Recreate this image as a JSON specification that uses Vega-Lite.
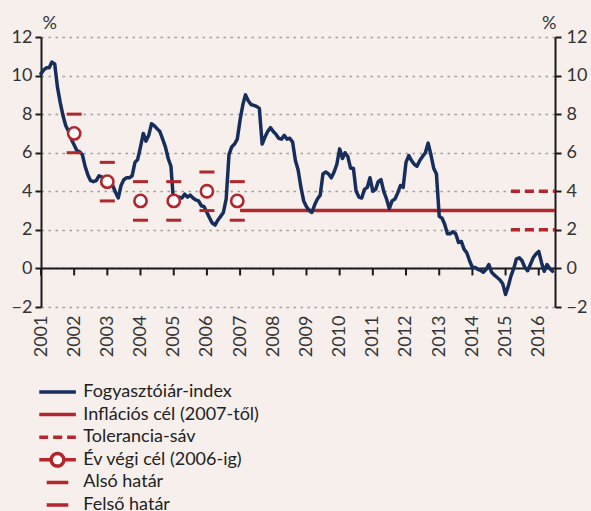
{
  "$schema": "https://vega.github.io/schema/vega-lite/v6.json",
  "width": 514,
  "height": 270,
  "autosize": {"type": "none"},
  "padding": {"left": 41, "top": 37, "right": 36, "bottom": 204},
  "background": "#f6efec",
  "config": {
    "view": {"stroke": null},
    "font": "Lato",
    "axis": {
      "labelFont": "Lato", "labelFontSize": 18, "labelColor": "#333333",
      "titleFont": "Lato", "titleFontSize": 18, "titleColor": "#333333", "titleFontWeight": "normal",
      "domainColor": "#1a1a1a", "domainWidth": 2, "tickColor": "#1a1a1a", "tickWidth": 2, "tickSize": 6,
      "gridColor": "#a0a0a0", "gridDash": [2.5, 4.5], "gridWidth": 1.5
    },
    "axisX": {"domain": false, "ticks": false, "grid": false, "labelAngle": -90, "labelPadding": 8, "title": null, "labelOverlap": false, "labelFlush": false},
    "legend": {
      "orient": "none", "legendX": -1.85, "legendY": 346, "direction": "vertical", "padding": 0,
      "rowPadding": 4.6, "clipHeight": 18, "labelFont": "Lato", "labelFontSize": 18, "labelColor": "#222222", "labelOffset": 16.8, "labelLimit": 400,
      "symbolSize": 100, "symbolStrokeWidth": 3.5, "symbolFillColor": "white", "symbolOffset": 9.35
    }
  },
  "resolve": {"axis": {"y": "independent"}},
  "datasets": {
    "cpi": [
      {"d":"2001-01-01","v":10.1},{"d":"2001-02-01","v":10.3},{"d":"2001-03-01","v":10.4},{"d":"2001-04-01","v":10.4},{"d":"2001-05-01","v":10.7},{"d":"2001-06-01","v":10.6},{"d":"2001-07-01","v":9.4},{"d":"2001-08-01","v":8.6},{"d":"2001-09-01","v":7.9},{"d":"2001-10-01","v":7.4},{"d":"2001-11-01","v":7.1},{"d":"2001-12-01","v":6.7},
      {"d":"2002-01-01","v":6.4},{"d":"2002-02-01","v":6.1},{"d":"2002-03-01","v":6.05},{"d":"2002-04-01","v":5.9},{"d":"2002-05-01","v":5.3},{"d":"2002-06-01","v":4.85},{"d":"2002-07-01","v":4.55},{"d":"2002-08-01","v":4.5},{"d":"2002-09-01","v":4.55},{"d":"2002-10-01","v":4.8},{"d":"2002-11-01","v":4.75},{"d":"2002-12-01","v":4.65},
      {"d":"2003-01-01","v":4.55},{"d":"2003-02-01","v":4.45},{"d":"2003-03-01","v":4.3},{"d":"2003-04-01","v":3.95},{"d":"2003-05-01","v":3.65},{"d":"2003-06-01","v":4.3},{"d":"2003-07-01","v":4.6},{"d":"2003-08-01","v":4.7},{"d":"2003-09-01","v":4.7},{"d":"2003-10-01","v":4.8},{"d":"2003-11-01","v":5.5},{"d":"2003-12-01","v":5.65},
      {"d":"2004-01-01","v":6.3},{"d":"2004-02-01","v":7.0},{"d":"2004-03-01","v":6.6},{"d":"2004-04-01","v":6.9},{"d":"2004-05-01","v":7.5},{"d":"2004-06-01","v":7.4},{"d":"2004-07-01","v":7.25},{"d":"2004-08-01","v":7.1},{"d":"2004-09-01","v":6.7},{"d":"2004-10-01","v":6.3},{"d":"2004-11-01","v":5.7},{"d":"2004-12-01","v":5.3},
      {"d":"2005-01-01","v":3.3},{"d":"2005-02-01","v":3.5},{"d":"2005-03-01","v":3.7},{"d":"2005-04-01","v":3.65},{"d":"2005-05-01","v":3.85},{"d":"2005-06-01","v":3.7},{"d":"2005-07-01","v":3.8},{"d":"2005-08-01","v":3.65},{"d":"2005-09-01","v":3.55},{"d":"2005-10-01","v":3.5},{"d":"2005-11-01","v":3.25},{"d":"2005-12-01","v":3.2},
      {"d":"2006-01-01","v":2.9},{"d":"2006-02-01","v":2.6},{"d":"2006-03-01","v":2.35},{"d":"2006-04-01","v":2.25},{"d":"2006-05-01","v":2.5},{"d":"2006-06-01","v":2.7},{"d":"2006-07-01","v":2.9},{"d":"2006-08-01","v":3.6},{"d":"2006-09-01","v":5.9},{"d":"2006-10-01","v":6.3},{"d":"2006-11-01","v":6.45},{"d":"2006-12-01","v":6.7},
      {"d":"2007-01-01","v":7.7},{"d":"2007-02-01","v":8.5},{"d":"2007-03-01","v":9.0},{"d":"2007-04-01","v":8.7},{"d":"2007-05-01","v":8.5},{"d":"2007-06-01","v":8.45},{"d":"2007-07-01","v":8.4},{"d":"2007-08-01","v":8.3},{"d":"2007-09-01","v":6.45},{"d":"2007-10-01","v":6.8},{"d":"2007-11-01","v":7.1},{"d":"2007-12-01","v":7.3},
      {"d":"2008-01-01","v":7.1},{"d":"2008-02-01","v":6.95},{"d":"2008-03-01","v":6.75},{"d":"2008-04-01","v":6.7},{"d":"2008-05-01","v":6.9},{"d":"2008-06-01","v":6.7},{"d":"2008-07-01","v":6.75},{"d":"2008-08-01","v":6.55},{"d":"2008-09-01","v":5.6},{"d":"2008-10-01","v":5.1},{"d":"2008-11-01","v":4.2},{"d":"2008-12-01","v":3.5},
      {"d":"2009-01-01","v":3.2},{"d":"2009-02-01","v":3.0},{"d":"2009-03-01","v":2.9},{"d":"2009-04-01","v":3.3},{"d":"2009-05-01","v":3.6},{"d":"2009-06-01","v":3.8},{"d":"2009-07-01","v":4.9},{"d":"2009-08-01","v":5.0},{"d":"2009-09-01","v":4.9},{"d":"2009-10-01","v":4.7},{"d":"2009-11-01","v":5.0},{"d":"2009-12-01","v":5.4},
      {"d":"2010-01-01","v":6.2},{"d":"2010-02-01","v":5.7},{"d":"2010-03-01","v":6.0},{"d":"2010-04-01","v":5.8},{"d":"2010-05-01","v":5.2},{"d":"2010-06-01","v":5.2},{"d":"2010-07-01","v":4.0},{"d":"2010-08-01","v":3.7},{"d":"2010-09-01","v":3.65},{"d":"2010-10-01","v":4.1},{"d":"2010-11-01","v":4.2},{"d":"2010-12-01","v":4.7},
      {"d":"2011-01-01","v":4.0},{"d":"2011-02-01","v":4.1},{"d":"2011-03-01","v":4.5},{"d":"2011-04-01","v":4.6},{"d":"2011-05-01","v":4.0},{"d":"2011-06-01","v":3.6},{"d":"2011-07-01","v":3.1},{"d":"2011-08-01","v":3.5},{"d":"2011-09-01","v":3.6},{"d":"2011-10-01","v":3.9},{"d":"2011-11-01","v":4.3},{"d":"2011-12-01","v":4.2},
      {"d":"2012-01-01","v":5.5},{"d":"2012-02-01","v":5.85},{"d":"2012-03-01","v":5.6},{"d":"2012-04-01","v":5.4},{"d":"2012-05-01","v":5.3},{"d":"2012-06-01","v":5.6},{"d":"2012-07-01","v":5.8},{"d":"2012-08-01","v":6.0},{"d":"2012-09-01","v":6.5},{"d":"2012-10-01","v":5.9},{"d":"2012-11-01","v":5.2},{"d":"2012-12-01","v":4.9},
      {"d":"2013-01-01","v":2.7},{"d":"2013-02-01","v":2.6},{"d":"2013-03-01","v":2.3},{"d":"2013-04-01","v":1.8},{"d":"2013-05-01","v":1.8},{"d":"2013-06-01","v":1.9},{"d":"2013-07-01","v":1.8},{"d":"2013-08-01","v":1.35},{"d":"2013-09-01","v":1.4},{"d":"2013-10-01","v":1.0},{"d":"2013-11-01","v":0.8},{"d":"2013-12-01","v":0.4},
      {"d":"2014-01-01","v":0.05},{"d":"2014-02-01","v":0.05},{"d":"2014-03-01","v":-0.05},{"d":"2014-04-01","v":-0.1},{"d":"2014-05-01","v":-0.2},{"d":"2014-06-01","v":-0.05},{"d":"2014-07-01","v":0.2},{"d":"2014-08-01","v":-0.2},{"d":"2014-09-01","v":-0.35},{"d":"2014-10-01","v":-0.47},{"d":"2014-11-01","v":-0.6},{"d":"2014-12-01","v":-0.8},
      {"d":"2015-01-01","v":-1.35},{"d":"2015-02-01","v":-0.9},{"d":"2015-03-01","v":-0.4},{"d":"2015-04-01","v":0.0},{"d":"2015-05-01","v":0.5},{"d":"2015-06-01","v":0.55},{"d":"2015-07-01","v":0.4},{"d":"2015-08-01","v":0.05},{"d":"2015-09-01","v":-0.12},{"d":"2015-10-01","v":0.2},{"d":"2015-11-01","v":0.55},{"d":"2015-12-01","v":0.75},
      {"d":"2016-01-01","v":0.88},{"d":"2016-02-01","v":0.3},{"d":"2016-03-01","v":-0.15},{"d":"2016-04-01","v":0.2},{"d":"2016-05-01","v":0.0},{"d":"2016-06-01","v":-0.15}
    ],
    "target": [
      {"d":"2007-01-01","v":3,"s":"Inflációs cél (2007-től)"},
      {"d":"2016-06-28","v":3,"s":"Inflációs cél (2007-től)"}
    ],
    "band": [
      {"d":"2015-03-01","v":4,"b":"felső","s":"Tolerancia-sáv"},
      {"d":"2016-06-28","v":4,"b":"felső","s":"Tolerancia-sáv"},
      {"d":"2015-03-01","v":2,"b":"alsó","s":"Tolerancia-sáv"},
      {"d":"2016-06-28","v":2,"b":"alsó","s":"Tolerancia-sáv"}
    ],
    "yearend": [
      {"d":"2002-01-01","v":7,"s":"Év végi cél (2006-ig)"},
      {"d":"2003-01-01","v":4.5,"s":"Év végi cél (2006-ig)"},
      {"d":"2004-01-01","v":3.5,"s":"Év végi cél (2006-ig)"},
      {"d":"2005-01-01","v":3.5,"s":"Év végi cél (2006-ig)"},
      {"d":"2006-01-01","v":4,"s":"Év végi cél (2006-ig)"},
      {"d":"2006-12-01","v":3.5,"s":"Év végi cél (2006-ig)"}
    ],
    "limits": [
      {"d":"2002-01-01","v":6,"s":"Alsó határ"},{"d":"2002-01-01","v":8,"s":"Felső határ"},
      {"d":"2003-01-01","v":3.5,"s":"Alsó határ"},{"d":"2003-01-01","v":5.5,"s":"Felső határ"},
      {"d":"2004-01-01","v":2.5,"s":"Alsó határ"},{"d":"2004-01-01","v":4.5,"s":"Felső határ"},
      {"d":"2005-01-01","v":2.5,"s":"Alsó határ"},{"d":"2005-01-01","v":4.5,"s":"Felső határ"},
      {"d":"2006-01-01","v":3,"s":"Alsó határ"},{"d":"2006-01-01","v":5,"s":"Felső határ"},
      {"d":"2006-12-01","v":2.5,"s":"Alsó határ"},{"d":"2006-12-01","v":4.5,"s":"Felső határ"}
    ],
    "years": [
      {"d":"2001-01-01"},{"d":"2002-01-01"},{"d":"2003-01-01"},{"d":"2004-01-01"},{"d":"2005-01-01"},{"d":"2006-01-01"},{"d":"2007-01-01"},{"d":"2008-01-01"},
      {"d":"2009-01-01"},{"d":"2010-01-01"},{"d":"2011-01-01"},{"d":"2012-01-01"},{"d":"2013-01-01"},{"d":"2014-01-01"},{"d":"2015-01-01"},{"d":"2016-01-01"}
    ],
    "zero": [{"v": 0}]
  },
  "layer": [
    {
      "data": {"name": "zero"},
      "mark": {"type": "rule", "color": "#1a1a1a", "strokeWidth": 2},
      "encoding": {
        "y": {"field": "v", "type": "quantitative", "scale": {"domain": [-2, 12], "nice": false}, "axis": null}
      }
    },
    {
      "data": {"name": "years"},
      "mark": {"type": "tick", "orient": "vertical", "color": "#1a1a1a", "size": 7, "thickness": 2, "yOffset": 3.5, "opacity": 1},
      "encoding": {
        "x": {"field": "d", "type": "temporal", "scale": {"type": "utc", "domain": [{"year": 2001, "month": 1, "date": 1, "utc": true}, {"year": 2016, "month": 6, "date": 28, "utc": true}]}},
        "y": {"datum": 0, "type": "quantitative", "scale": {"domain": [-2, 12], "nice": false}, "axis": null}
      }
    },
    {
      "data": {"name": "target"},
      "mark": {"type": "line", "strokeWidth": 3.5},
      "encoding": {
        "x": {"field": "d", "type": "temporal", "scale": {"type": "utc", "domain": [{"year": 2001, "month": 1, "date": 1, "utc": true}, {"year": 2016, "month": 6, "date": 28, "utc": true}]}},
        "y": {"field": "v", "type": "quantitative", "scale": {"domain": [-2, 12], "nice": false},
              "axis": {"orient": "right", "values": [-2, 0, 2, 4, 6, 8, 10, 12], "grid": false, "labelPadding": 5, "title": "%", "titleAngle": 0, "titleAlign": "right", "titleBaseline": "alphabetic", "titleX": 1, "titleY": -9}},
        "color": {"field": "s", "type": "nominal",
          "scale": {"domain": ["Fogyasztóiár-index", "Inflációs cél (2007-től)", "Tolerancia-sáv", "Év végi cél (2006-ig)", "Alsó határ", "Felső határ"],
                    "range": ["#172e5c", "#b3262c", "#b3262c", "#b3262c", "#b3262c", "#b3262c"]},
          "legend": {
            "title": null,
            "encode": {"symbols": {"update": {
              "shape": {"signal": "datum.value == 'Év végi cél (2006-ig)' ? 'M-3.67,0H-1.26M1.26,0H3.67M1.26,0A1.26,1.26,0,1,1,-1.26,0A1.26,1.26,0,1,1,1.26,0' : (indexof(datum.value, 'határ') >= 0 ? 'M-2.16,0H2.16' : 'M-3.67,0H3.67')"},
              "fill": {"value": "white"},
              "fillOpacity": {"value": 1},
              "stroke": {"scale": "color", "field": "value"},
              "strokeDash": {"scale": "strokeDash", "field": "value"},
              "strokeWidth": {"value": 3.5},
              "size": {"value": 100},
              "opacity": {"value": 1}
            }}}
          }},
        "strokeDash": {"field": "s", "type": "nominal",
          "scale": {"domain": ["Fogyasztóiár-index", "Inflációs cél (2007-től)", "Tolerancia-sáv", "Év végi cél (2006-ig)", "Alsó határ", "Felső határ"],
                    "range": [[1, 0], [1, 0], [9, 5], [1, 0], [1, 0], [1, 0]]},
          "legend": null}
      }
    },
    {
      "data": {"name": "band"},
      "mark": {"type": "line", "strokeWidth": 3.5},
      "encoding": {
        "x": {"field": "d", "type": "temporal", "scale": {"type": "utc", "domain": [{"year": 2001, "month": 1, "date": 1, "utc": true}, {"year": 2016, "month": 6, "date": 28, "utc": true}]}},
        "y": {"field": "v", "type": "quantitative", "scale": {"domain": [-2, 12], "nice": false}, "axis": null},
        "detail": {"field": "b", "type": "nominal"},
        "color": {"field": "s", "type": "nominal",
          "scale": {"domain": ["Fogyasztóiár-index", "Inflációs cél (2007-től)", "Tolerancia-sáv", "Év végi cél (2006-ig)", "Alsó határ", "Felső határ"],
                    "range": ["#172e5c", "#b3262c", "#b3262c", "#b3262c", "#b3262c", "#b3262c"]},
          "legend": {
            "title": null,
            "encode": {"symbols": {"update": {
              "shape": {"signal": "datum.value == 'Év végi cél (2006-ig)' ? 'M-3.67,0H-1.26M1.26,0H3.67M1.26,0A1.26,1.26,0,1,1,-1.26,0A1.26,1.26,0,1,1,1.26,0' : (indexof(datum.value, 'határ') >= 0 ? 'M-2.16,0H2.16' : 'M-3.67,0H3.67')"},
              "fill": {"value": "white"},
              "fillOpacity": {"value": 1},
              "stroke": {"scale": "color", "field": "value"},
              "strokeDash": {"scale": "strokeDash", "field": "value"},
              "strokeWidth": {"value": 3.5},
              "size": {"value": 100},
              "opacity": {"value": 1}
            }}}
          }},
        "strokeDash": {"field": "s", "type": "nominal",
          "scale": {"domain": ["Fogyasztóiár-index", "Inflációs cél (2007-től)", "Tolerancia-sáv", "Év végi cél (2006-ig)", "Alsó határ", "Felső határ"],
                    "range": [[1, 0], [1, 0], [9, 5], [1, 0], [1, 0], [1, 0]]},
          "legend": null}
      }
    },
    {
      "data": {"name": "cpi"},
      "mark": {"type": "line", "color": "#172e5c", "strokeWidth": 3.5, "strokeJoin": "round", "strokeCap": "round"},
      "encoding": {
        "x": {"field": "d", "type": "temporal", "scale": {"type": "utc", "domain": [{"year": 2001, "month": 1, "date": 1, "utc": true}, {"year": 2016, "month": 6, "date": 28, "utc": true}]},
              "axis": {"format": "%Y", "tickCount": {"interval": "year", "step": 1}}},
        "y": {"field": "v", "type": "quantitative", "scale": {"domain": [-2, 12], "nice": false},
              "axis": {"orient": "left", "values": [-2, 0, 2, 4, 6, 8, 10, 12], "grid": true, "labelPadding": 3, "title": "%", "titleAngle": 0, "titleAlign": "left", "titleBaseline": "alphabetic", "titleX": 1, "titleY": -9}}
      }
    },
    {
      "data": {"name": "limits"},
      "mark": {"type": "rule", "strokeWidth": 3, "xOffset": -7.5, "x2Offset": 7.5, "opacity": 1},
      "encoding": {
        "x": {"field": "d", "type": "temporal", "scale": {"type": "utc", "domain": [{"year": 2001, "month": 1, "date": 1, "utc": true}, {"year": 2016, "month": 6, "date": 28, "utc": true}]}},
        "x2": {"field": "d"},
        "y": {"field": "v", "type": "quantitative", "scale": {"domain": [-2, 12], "nice": false}, "axis": null},
        "color": {"field": "s", "type": "nominal",
          "scale": {"domain": ["Fogyasztóiár-index", "Inflációs cél (2007-től)", "Tolerancia-sáv", "Év végi cél (2006-ig)", "Alsó határ", "Felső határ"],
                    "range": ["#172e5c", "#b3262c", "#b3262c", "#b3262c", "#b3262c", "#b3262c"]},
          "legend": {
            "title": null,
            "encode": {"symbols": {"update": {
              "shape": {"signal": "datum.value == 'Év végi cél (2006-ig)' ? 'M-3.67,0H-1.26M1.26,0H3.67M1.26,0A1.26,1.26,0,1,1,-1.26,0A1.26,1.26,0,1,1,1.26,0' : (indexof(datum.value, 'határ') >= 0 ? 'M-2.16,0H2.16' : 'M-3.67,0H3.67')"},
              "fill": {"value": "white"},
              "fillOpacity": {"value": 1},
              "stroke": {"scale": "color", "field": "value"},
              "strokeDash": {"scale": "strokeDash", "field": "value"},
              "strokeWidth": {"value": 3.5},
              "size": {"value": 100},
              "opacity": {"value": 1}
            }}}
          }}
      }
    },
    {
      "data": {"name": "yearend"},
      "mark": {"type": "point", "shape": "circle", "filled": false, "fill": "white", "size": 150, "strokeWidth": 2.6, "opacity": 1},
      "encoding": {
        "x": {"field": "d", "type": "temporal", "scale": {"type": "utc", "domain": [{"year": 2001, "month": 1, "date": 1, "utc": true}, {"year": 2016, "month": 6, "date": 28, "utc": true}]}},
        "y": {"field": "v", "type": "quantitative", "scale": {"domain": [-2, 12], "nice": false}, "axis": null},
        "color": {"field": "s", "type": "nominal",
          "scale": {"domain": ["Fogyasztóiár-index", "Inflációs cél (2007-től)", "Tolerancia-sáv", "Év végi cél (2006-ig)", "Alsó határ", "Felső határ"],
                    "range": ["#172e5c", "#b3262c", "#b3262c", "#b3262c", "#b3262c", "#b3262c"]},
          "legend": {
            "title": null,
            "encode": {"symbols": {"update": {
              "shape": {"signal": "datum.value == 'Év végi cél (2006-ig)' ? 'M-3.67,0H-1.26M1.26,0H3.67M1.26,0A1.26,1.26,0,1,1,-1.26,0A1.26,1.26,0,1,1,1.26,0' : (indexof(datum.value, 'határ') >= 0 ? 'M-2.16,0H2.16' : 'M-3.67,0H3.67')"},
              "fill": {"value": "white"},
              "fillOpacity": {"value": 1},
              "stroke": {"scale": "color", "field": "value"},
              "strokeDash": {"scale": "strokeDash", "field": "value"},
              "strokeWidth": {"value": 3.5},
              "size": {"value": 100},
              "opacity": {"value": 1}
            }}}
          }}
      }
    }
  ]
}
